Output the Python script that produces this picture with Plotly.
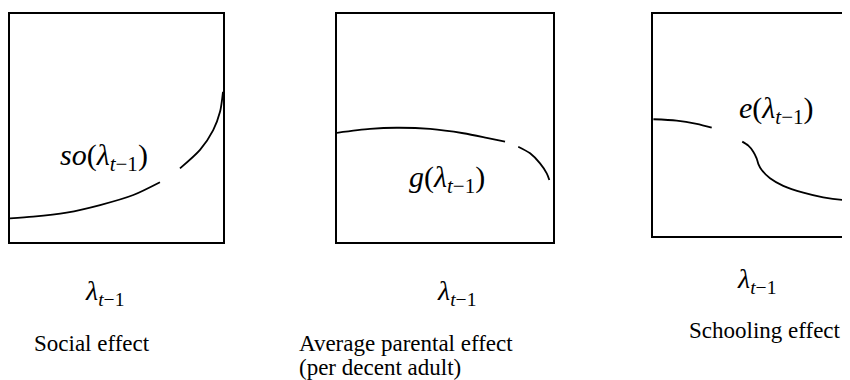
import plotly.graph_objects as go

# curve samples, in 0-100 box units (None = gap in the curve)
social_x = [0, 10.9, 26.6, 42.3, 57.9, 70.4, None, 79.8, 89.2, 95.4, 98.6, 100]
social_y = [10.4, 11.1, 12.9, 16.2, 20.6, 26.2, None, 32.3, 40.4, 49.1, 57.1, 65.9]

parental_x = [0, 15.3, 27.6, 43.1, 58.5, 69.3, 77.8, None, 83.9, 89.4, 94.0, 97.1, 98.3]
parental_y = [47.9, 49.6, 50.1, 49.6, 47.7, 45.7, 44.0, None, 41.8, 38.9, 34.5, 30.1, 27.2]

schooling_x = [0.2, 12.0, 22.2, 29.8, None, 45.3, 48.4, 50.9, 52.6, 53.5, 55.2,
               59.4, 66.1, 76.3, 86.4, 96.6, 100]
schooling_y = [52.6, 52.0, 50.5, 48.8, None, 42.5, 40.7, 38.0, 35.0, 32.4, 29.7,
               26.0, 22.6, 19.5, 17.4, 16.2, 16.1]

curve_labels = ['<i>so</i>(<i>λ</i><sub><i>t</i>−1</sub>)',
                '<i>g</i>(<i>λ</i><sub><i>t</i>−1</sub>)',
                '<i>e</i>(<i>λ</i><sub><i>t</i>−1</sub>)']
axis_label = '<i>λ</i><sub><i>t</i>−1</sub>'

# the page body has an 8px margin, so the figure is drawn 8px in and shrunk to fit
OFF = 8
W, H = 850 - OFF, 380 - OFF
SERIF = "'Liberation Serif', 'Times New Roman', serif"


def px(x):
    return (x - OFF) / W


def py(y):
    return 1 - (y - OFF) / H


fig = go.Figure()

panels = [
    # (x data, y data, x box px, y box px, right edge drawn)
    (social_x, social_y, (10, 223), (14, 242), True),
    (parental_x, parental_y, (337, 553), (14, 242), True),
    (schooling_x, schooling_y, (653, 850), (14, 236), False),
]

for i, (xs, ys, xd, yd, right_edge) in enumerate(panels, start=1):
    sfx = '' if i == 1 else str(i)
    fig.add_trace(go.Scatter(x=xs, y=ys, mode='lines',
                             line=dict(color='black', width=1.8, shape='spline', smoothing=0.8),
                             connectgaps=False, hoverinfo='skip',
                             xaxis='x' + sfx, yaxis='y' + sfx, showlegend=False))
    fig.update_layout(**{
        'xaxis' + sfx: dict(domain=[max(px(xd[0]), 0), min(px(xd[1]), 1)], range=[0, 100],
                            showline=True, mirror=True, linecolor='black', linewidth=2,
                            showgrid=False, zeroline=False, showticklabels=False, ticks='',
                            anchor='y' + sfx, fixedrange=True),
        'yaxis' + sfx: dict(domain=[py(yd[1]), py(yd[0])], range=[0, 100],
                            showline=True, mirror=right_edge, linecolor='black', linewidth=2,
                            showgrid=False, zeroline=False, showticklabels=False, ticks='',
                            anchor='x' + sfx, fixedrange=True),
    })

annotations = []


def label(text, x, y, size=23, xanchor='center'):
    annotations.append(dict(text=text, x=px(x), y=py(y), xref='paper', yref='paper',
                            xanchor=xanchor, yanchor='middle', showarrow=False,
                            font=dict(family=SERIF, size=size, color='black')))


# curve names inside the boxes
label(curve_labels[0], 104, 157, size=30)
label(curve_labels[1], 447, 179, size=30)
label(curve_labels[2], 776, 110, size=30)

# lambda under each box
label(axis_label, 104, 292, size=28)
label(axis_label, 456, 292, size=28)
label(axis_label, 756, 280, size=28)

# captions
label('Social effect', 92, 343)
label('Average parental effect', 297, 343, xanchor='left')
label('(per decent adult)', 297, 367, xanchor='left')
label('Schooling effect', 765, 330)

fig.update_layout(width=W, height=H, margin=dict(l=0, r=0, t=0, b=0),
                  paper_bgcolor='white', plot_bgcolor='white',
                  font=dict(family=SERIF, color='black'),
                  annotations=annotations, showlegend=False)

fig.write_html('out.html', config={'displayModeBar': False})
